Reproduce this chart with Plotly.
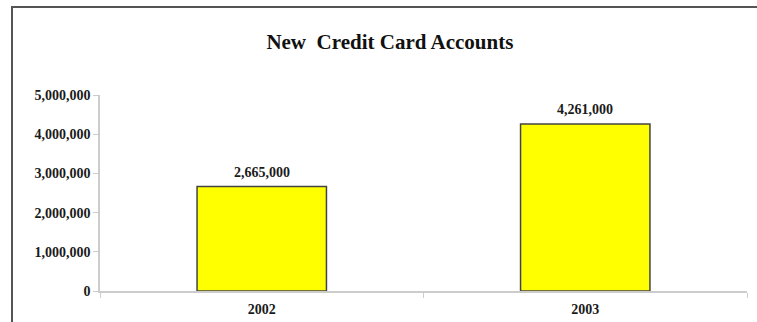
import plotly.graph_objects as go

# New credit card accounts per year
years = ["2002", "2003"]
accounts = [2665000, 4261000]

W, H = 757, 322
ML, MR, MT, MB = 100, 10, 95, 31
PW, PH = W - ML - MR, H - MT - MB

serif = "Liberation Serif, Times New Roman, serif"
label_font = dict(family=serif, size=14, color="#1a1a1a", weight="bold")

fig = go.Figure(
    go.Bar(
        x=years,
        y=accounts,
        marker=dict(color="#ffff00", line=dict(color="#444444", width=1.5)),
        width=0.4,
        hoverinfo="x+y",
    )
)

# value labels above each bar (category position by index)
for i, val in enumerate(accounts):
    fig.add_annotation(
        x=i, y=val, text=f"{val:,}", showarrow=False,
        yanchor="bottom", yshift=5, font=label_font,
    )

# frame edge along the left and top of the chart area
def px_x(x):
    return (x - ML) / PW

def px_y(y):
    return (H - MB - y) / PH

fig.add_shape(type="line", xref="paper", yref="paper",
              x0=px_x(12), x1=px_x(12), y0=px_y(7), y1=px_y(H + 5),
              line=dict(color="#555555", width=2))
fig.add_shape(type="line", xref="paper", yref="paper",
              x0=px_x(11), x1=px_x(W + 5), y0=px_y(7), y1=px_y(7),
              line=dict(color="#555555", width=2))

fig.update_layout(
    width=W,
    height=H,
    margin=dict(l=ML, r=MR, t=MT, b=MB, autoexpand=False),
    paper_bgcolor="white",
    plot_bgcolor="white",
    showlegend=False,
    title=dict(
        text="New  Credit Card Accounts",
        x=0.515,
        xanchor="center",
        y=1 - 42 / H,
        yanchor="middle",
        font=dict(family=serif, size=21, color="#111111", weight="bold"),
    ),
    xaxis=dict(
        type="category",
        range=[-0.5, len(years) - 0.5],
        autorange=False,
        automargin=False,
        showline=True,
        linecolor="#cccccc",
        linewidth=1.5,
        ticks="outside",
        tickson="boundaries",
        ticklen=5,
        tickcolor="#cccccc",
        showgrid=False,
        tickangle=0,
        ticklabelstandoff=4,
        tickfont=label_font,
    ),
    yaxis=dict(
        range=[0, 5000000],
        autorange=False,
        automargin=False,
        dtick=1000000,
        tickformat=",d",
        showline=True,
        linecolor="#cccccc",
        linewidth=1.5,
        ticks="outside",
        ticklen=5,
        tickcolor="#cccccc",
        showgrid=False,
        zeroline=False,
        tickfont=label_font,
    ),
)

fig.write_html("out.html")
